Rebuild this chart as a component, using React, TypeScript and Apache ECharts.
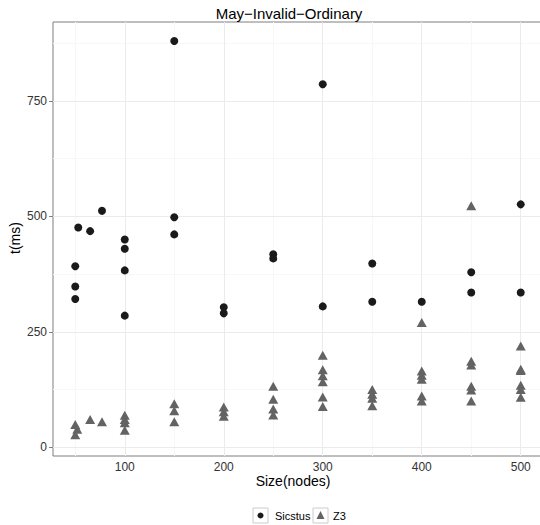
import React, { useEffect, useRef } from "react";
import * as echarts from "echarts";

// Sicstus timings (size in nodes, time in ms)
const sicstusSize = [50, 50, 50, 53, 65, 77, 100, 100, 100, 100, 150, 150, 150, 200, 200, 250, 250, 300, 300, 350, 350, 400, 450, 450, 500, 500];
const sicstusTime = [392, 348, 321, 476, 468, 512, 450, 430, 383, 285, 880, 498, 461, 303, 290, 418, 409, 786, 305, 398, 315, 315, 379, 335, 526, 335];

// Z3 timings
const z3Size = [50, 50, 52, 65, 77, 100, 100, 100, 100, 150, 150, 150, 200, 200, 200, 250, 250, 250, 250, 300, 300, 300, 300, 300, 300, 350, 350, 350, 350, 400, 400, 400, 400, 400, 400, 450, 450, 450, 450, 450, 450, 500, 500, 500, 500, 500, 500];
const z3Time = [49, 27, 39, 60, 55, 69, 60, 53, 37, 94, 79, 55, 87, 77, 67, 132, 104, 83, 70, 199, 168, 155, 142, 109, 88, 125, 115, 106, 90, 270, 165, 156, 147, 111, 100, 523, 186, 178, 132, 124, 100, 219, 169, 166, 134, 125, 108];

const xTicks = [100, 200, 300, 400, 500];
const xMinor = [50, 150, 250, 350, 450];
const yTicks = [0, 250, 500, 750];
const yMinor = [125, 375, 625, 875];

const seriesNames = ["Sicstus", "Z3"];

const FONT = "Liberation Sans, Arial, sans-serif";

export default function App() {
  const ref = useRef<HTMLDivElement>(null);

  useEffect(() => {
    if (!ref.current) return;
    const chart = echarts.init(ref.current, null, { renderer: "svg" });

    const sicstus = sicstusSize.map((s, i) => [s, sicstusTime[i]]);
    const z3 = z3Size.map((s, i) => [s, z3Time[i]]);

    const major = { color: "#ebebeb", width: 1, type: "solid" as const };
    const minor = { color: "#f7f7f7", width: 1, type: "solid" as const };

    chart.setOption({
      animation: false,
      backgroundColor: "#ffffff",
      grid: {
        left: 53,
        top: 22,
        width: 490,
        height: 434,
        show: true,
        borderColor: "#7f7f7f",
        borderWidth: 1,
        backgroundColor: "#ffffff",
        z: 0,
      },
      xAxis: {
        type: "value",
        min: 27.5,
        max: 522.5,
        axisLine: { show: false },
        splitLine: { show: false },
        axisTick: { show: true, length: 4, lineStyle: { color: "#7f7f7f" }, customValues: xTicks },
        axisLabel: { customValues: xTicks, color: "#333333", fontSize: 12, fontFamily: FONT, margin: 5 },
      },
      yAxis: {
        type: "value",
        min: -19,
        max: 921,
        axisLine: { show: false },
        splitLine: { show: false },
        axisTick: { show: true, length: 4, lineStyle: { color: "#7f7f7f" }, customValues: yTicks },
        axisLabel: { customValues: yTicks, color: "#333333", fontSize: 12, fontFamily: FONT, margin: 6 },
      },
      graphic: [
        {
          type: "text",
          x: 289,
          y: 13,
          style: { text: "May−Invalid−Ordinary", font: `15px ${FONT}`, fill: "#000", align: "center", verticalAlign: "middle" },
        },
        {
          type: "text",
          x: 293,
          y: 481,
          style: { text: "Size(nodes)", font: `14px ${FONT}`, fill: "#000", align: "center", verticalAlign: "middle" },
        },
        {
          type: "text",
          x: 15,
          y: 238,
          rotation: Math.PI / 2,
          style: { text: "t(ms)", font: `14px ${FONT}`, fill: "#000", align: "center", verticalAlign: "middle" },
        },
        // legend keys
        { type: "rect", shape: { x: 253, y: 508, width: 15, height: 15 }, style: { fill: "#fff", stroke: "#cccccc", lineWidth: 1 } },
        { type: "circle", shape: { cx: 260.5, cy: 515.5, r: 3 }, style: { fill: "#1a1a1a" } },
        { type: "text", x: 275, y: 515.5, style: { text: seriesNames[0], font: `11px ${FONT}`, fill: "#000", verticalAlign: "middle" } },
        { type: "rect", shape: { x: 313, y: 508, width: 15, height: 15 }, style: { fill: "#fff", stroke: "#cccccc", lineWidth: 1 } },
        { type: "polygon", shape: { points: [[320.5, 511], [324.5, 519], [316.5, 519]] }, style: { fill: "#636363" } },
        { type: "text", x: 333, y: 515.5, style: { text: seriesNames[1], font: `11px ${FONT}`, fill: "#000", verticalAlign: "middle" } },
      ],
      series: [
        {
          name: "grid",
          type: "scatter",
          data: [],
          z: 1,
          silent: true,
          markLine: {
            silent: true,
            z: 1,
            symbol: "none",
            label: { show: false },
            emphasis: { disabled: true },
            animation: false,
            data: [
              ...xMinor.map((v) => ({ xAxis: v, lineStyle: minor })),
              ...yMinor.map((v) => ({ yAxis: v, lineStyle: minor })),
              ...xTicks.map((v) => ({ xAxis: v, lineStyle: major })),
              ...yTicks.map((v) => ({ yAxis: v, lineStyle: major })),
            ],
          },
        },
        {
          name: seriesNames[1],
          type: "scatter",
          data: z3,
          symbol: "triangle",
          symbolSize: [10, 9],
          itemStyle: { color: "#636363", opacity: 1 },
          z: 3,
        },
        {
          name: seriesNames[0],
          type: "scatter",
          data: sicstus,
          symbol: "circle",
          symbolSize: 8,
          itemStyle: { color: "#1a1a1a", opacity: 1 },
          z: 4,
        },
      ],
    });

    return () => chart.dispose();
  }, []);

  return (
    <div style={{ position: "absolute", left: 0, top: 0, width: 540, height: 525, overflow: "hidden", background: "#fff" }}>
      <div ref={ref} style={{ width: 543, height: 525 }} />
    </div>
  );
}
